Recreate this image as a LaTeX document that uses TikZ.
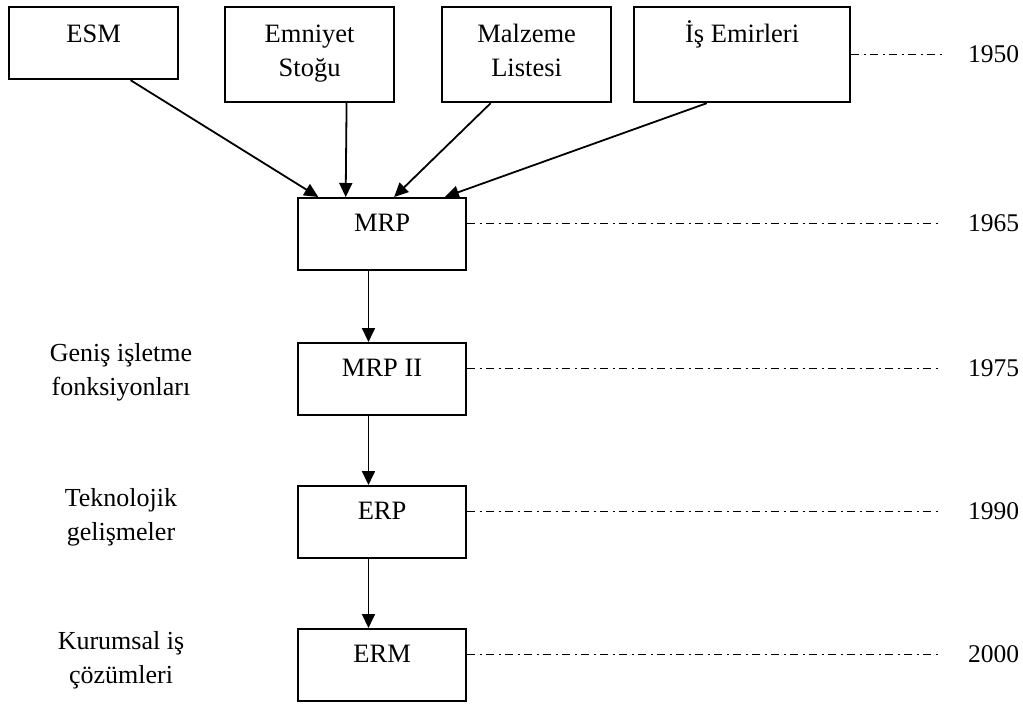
\documentclass[tikz,border=0pt]{standalone}
\usepackage{fontspec}
\setmainfont{Liberation Serif}
\usetikzlibrary{arrows.meta,calc}
\begin{document}
\begin{tikzpicture}[x=1pt,y=-1pt,
  every node/.style={font=\fontsize{26.5}{34}\selectfont},
  box/.style={draw,line width=2.2pt,inner sep=0pt,anchor=north west,align=center},
  topbox/.style={box,minimum width=169pt,text height=35pt},
  mainbox/.style={box,minimum width=168pt,text height=33pt,text depth=39pt},
  arr/.style={line width=1.8pt,-{Triangle[length=14pt,width=13pt]}},
  dd/.style={line width=1.1pt,dash pattern=on 8pt off 4.5pt on 2pt off 4.5pt,shorten >=26pt},
  year/.style={inner sep=0pt,font=\fontsize{25.5}{34}\selectfont},
  lbl/.style={align=center,inner sep=0pt,font=\fontsize{26}{34}\selectfont}]
\useasboundingbox (0,0) rectangle (1023,704);
\coordinate (yx) at (968,0);
% top boxes
\node[topbox,text depth=37pt] (esm) at (8,6) {ESM};
\node[topbox,text depth=60pt,align=none] (emn) at (224,6) {\parbox[t]{169pt}{\centering Emniyet\\Stoğu}};
\node[topbox,text depth=60pt,align=none] (mal) at (441,6) {\parbox[t]{168pt}{\centering Malzeme\\Listesi}};
\node[topbox,minimum width=216pt,text depth=60pt] (is) at (633,6) {İş Emirleri};
% main column
\node[mainbox] (mrp) at (297,197) {MRP};
\node[mainbox] (mrpii) at (297,342) {MRP II};
\node[mainbox] (erp) at (297,485) {ERP};
\node[mainbox] (erm) at (297,628) {ERM};
% years
\node[year,anchor=west] (y1950) at (is.east -| yx) {1950};
\node[year,anchor=base west] (y1965) at (mrp.base -| yx) {1965};
\node[year,anchor=base west] (y1975) at (mrpii.base -| yx) {1975};
\node[year,anchor=base west] (y1990) at (erp.base -| yx) {1990};
\node[year,anchor=base west] (y2000) at (erm.base -| yx) {2000};
% left labels
\node[lbl] (l1) at (121,372) {Geniş işletme\\fonksiyonları};
\node[lbl] (l2) at (121,517) {Teknolojik\\gelişmeler};
\node[lbl] (l3) at (121,660) {Kurumsal iş\\çözümleri};
% arrows into MRP
\draw[arr] ($(esm.south west)!0.716!(esm.south east)$) -- ($(mrp.north west)!0.125!(mrp.north east)$);
\draw[arr] ($(emn.south west)!0.716!(emn.south east)$) -- ($(mrp.north west)!0.286!(mrp.north east)$);
\draw[arr] ($(mal.south west)!0.29!(mal.south east)$) -- ($(mrp.north west)!0.571!(mrp.north east)$);
\draw[arr] ($(is.south west)!0.338!(is.south east)$) -- ($(mrp.north west)!0.869!(mrp.north east)$);
% vertical chain
\draw[arr] ($(mrp.south west)!0.42!(mrp.south east)$) -- ($(mrpii.north west)!0.42!(mrpii.north east)$);
\draw[arr] ($(mrpii.south west)!0.42!(mrpii.south east)$) -- ($(erp.north west)!0.42!(erp.north east)$);
\draw[arr] ($(erp.south west)!0.42!(erp.south east)$) -- ($(erm.north west)!0.42!(erm.north east)$);
% dash-dot timeline lines
\draw[dd] (is.east) -- (y1950.west);
\draw[dd] ([yshift=8pt]mrp.base east) -- ([yshift=8pt]y1965.base west);
\draw[dd] ([yshift=8pt]mrpii.base east) -- ([yshift=8pt]y1975.base west);
\draw[dd] ([yshift=8pt]erp.base east) -- ([yshift=8pt]y1990.base west);
\draw[dd] ([yshift=8pt]erm.base east) -- ([yshift=8pt]y2000.base west);
\end{tikzpicture}
\end{document}
